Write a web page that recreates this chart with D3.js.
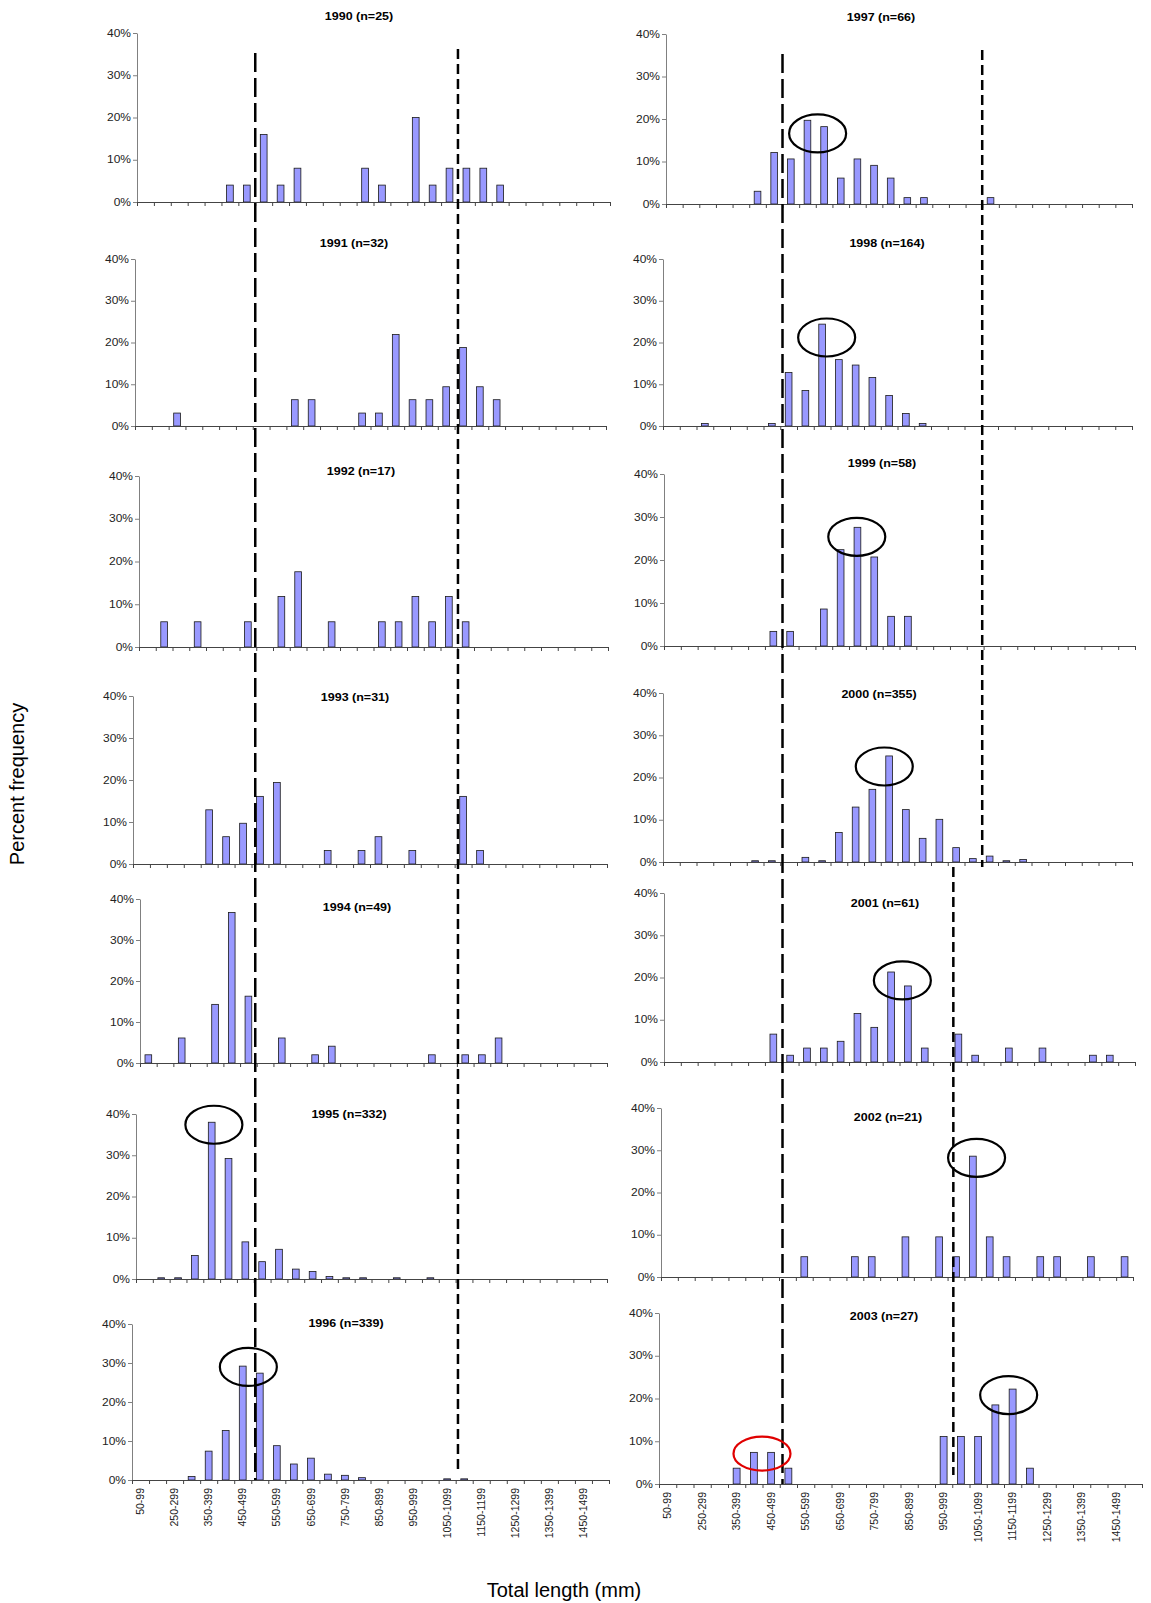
<!DOCTYPE html>
<html>
<head>
<meta charset="utf-8">
<script src="https://cdn.jsdelivr.net/npm/d3@7"></script>
<style>
  body { margin: 0; background: #fff; }
  svg { display: block; font-family: "Liberation Sans", Arial, sans-serif; }
</style>
</head>
<body>
<div id="chart"></div>
<script>
// length classes (mm); every other label is shown on the axis
const categories = ["50-99", "100-249", "250-299", "300-349", "350-399", "400-449", "450-499",
  "500-549", "550-599", "600-649", "650-699", "700-749", "750-799", "800-849", "850-899",
  "900-949", "950-999", "1000-1049", "1050-1099", "1100-1149", "1150-1199", "1200-1249",
  "1250-1299", "1300-1349", "1350-1399", "1400-1449", "1450-1499", "1500-1549"];

const years = [1990, 1991, 1992, 1993, 1994, 1995, 1996, 1997, 1998, 1999, 2000, 2001, 2002, 2003];
const sampleSizes = [25, 32, 17, 31, 49, 332, 339, 66, 164, 58, 355, 61, 21, 27];

// percent frequency per length class
const pct1990 = [0,0,0,0,0,4,4,16,4,8,0,0,0,8,4,0,20,4,8,8,8,4,0,0,0,0,0,0];
const pct1991 = [0,0,3.1,0,0,0,0,0,0,6.3,6.3,0,0,3.1,3.1,21.9,6.3,6.3,9.4,18.8,9.4,6.3,0,0,0,0,0,0];
const pct1992 = [0,5.9,0,5.9,0,0,5.9,0,11.8,17.6,0,5.9,0,0,5.9,5.9,11.8,5.9,11.8,5.9,0,0,0,0,0,0,0,0];
const pct1993 = [0,0,0,0,12.9,6.5,9.7,16.1,19.4,0,0,3.2,0,3.2,6.5,0,3.2,0,0,16.1,3.2,0,0,0,0,0,0,0];
const pct1994 = [2.0,0,6.1,0,14.3,36.7,16.3,0,6.1,0,2.0,4.1,0,0,0,0,0,2.0,0,2.0,2.0,6.1,0,0,0,0,0,0];
const pct1995 = [0,0.3,0.3,5.7,38.0,29.2,9.0,4.2,7.2,2.4,1.8,0.6,0.3,0.3,0,0.3,0,0.3,0,0,0,0,0,0,0,0,0,0];
const pct1996 = [0,0,0,0.9,7.4,12.7,29.2,27.4,8.8,4.1,5.6,1.5,1.2,0.6,0,0,0,0,0.3,0.3,0,0,0,0,0,0,0,0];
const pct1997 = [0,0,0,0,0,3.0,12.1,10.6,19.7,18.2,6.1,10.6,9.1,6.1,1.5,1.5,0,0,0,1.5,0,0,0,0,0,0,0,0];
const pct1998 = [0,0,0.6,0,0,0,0.6,12.8,8.5,24.4,15.9,14.6,11.6,7.3,3.0,0.6,0,0,0,0,0,0,0,0,0,0,0,0];
const pct1999 = [0,0,0,0,0,0,3.4,3.4,0,8.6,22.4,27.6,20.7,6.9,6.9,0,0,0,0,0,0,0,0,0,0,0,0,0];
const pct2000 = [0,0,0,0,0,0.3,0.3,0,1.1,0.3,7.0,13.0,17.2,25.1,12.4,5.6,10.1,3.4,0.8,1.4,0.3,0.6,0,0,0,0,0,0];
const pct2001 = [0,0,0,0,0,0,6.6,1.6,3.3,3.3,4.9,11.5,8.2,21.3,18.0,3.3,0,6.6,1.6,0,3.3,0,3.3,0,0,1.6,1.6,0];
const pct2002 = [0,0,0,0,0,0,0,0,4.8,0,0,4.8,4.8,0,9.5,0,9.5,4.8,28.6,9.5,4.8,0,4.8,4.8,0,4.8,0,4.8];
const pct2003 = [0,0,0,0,3.7,7.4,7.4,3.7,0,0,0,0,0,0,0,0,11.1,11.1,11.1,18.5,22.2,3.7,0,0,0,0,0,0];
const series = [pct1990, pct1991, pct1992, pct1993, pct1994, pct1995, pct1996,
  pct1997, pct1998, pct1999, pct2000, pct2001, pct2002, pct2003];

const yTicks = [0, 10, 20, 30, 40];

// circled modes: [panel, position in class units, percent]
const modeRings = [[5, 4.63, 37.4], [6, 6.83, 29.0], [7, 9.11, 16.6], [8, 9.77, 21.2],
  [9, 11.46, 25.4], [10, 13.21, 22.6], [11, 14.17, 19.3], [12, 18.72, 28.2], [13, 20.27, 20.8]];
const smallRing = [13, 5.97, 7.1];

// length cut-offs in class units (7 = 500 mm, 19 = 1100 mm, ~17 = 1000 mm)
const cutLines = [
  { ref: 0, pos: 7, from: 0, to: 6, kind: "long" },
  { ref: 0, pos: 19, from: 0, to: 6, kind: "short" },
  { ref: 7, pos: 7, from: 7, to: 13, kind: "long" },
  { ref: 7, pos: 19, from: 7, to: 10, kind: "short" },
  { ref: 11, pos: 17.2, from: 11, to: 13, kind: "short" }
];

// plot boxes of the 14 small charts (pixels)
const boxes = [
  { x0: 137, x1: 610, top: 33, bottom: 202, tx: 359, ty: 16 },
  { x0: 135, x1: 606, top: 259, bottom: 426, tx: 354, ty: 243 },
  { x0: 139, x1: 608, top: 476, bottom: 647, tx: 361, ty: 471 },
  { x0: 133, x1: 607, top: 696, bottom: 864, tx: 355, ty: 697 },
  { x0: 140, x1: 607, top: 899, bottom: 1063, tx: 357, ty: 907 },
  { x0: 136, x1: 607, top: 1114, bottom: 1279, tx: 349, ty: 1114 },
  { x0: 132, x1: 609, top: 1324, bottom: 1480, tx: 346, ty: 1323 },
  { x0: 666, x1: 1132, top: 34, bottom: 204, tx: 881, ty: 17 },
  { x0: 663, x1: 1132, top: 259, bottom: 426, tx: 887, ty: 243 },
  { x0: 664, x1: 1135, top: 474, bottom: 646, tx: 882, ty: 463 },
  { x0: 663, x1: 1132, top: 693, bottom: 862, tx: 879, ty: 694 },
  { x0: 664, x1: 1135, top: 893, bottom: 1062, tx: 885, ty: 903 },
  { x0: 661, x1: 1133, top: 1108, bottom: 1277, tx: 888, ty: 1117 },
  { x0: 659, x1: 1142, top: 1313, bottom: 1484, tx: 884, ty: 1316 }
];
const bottomPanels = [6, 13];

const fullwidth = 1151;
const fullheight = 1603;

const svg = d3.select("#chart").append("svg")
  .attr("width", fullwidth)
  .attr("height", fullheight);

const scales = boxes.map(b => ({
  band: d3.scaleBand().domain(categories).range([b.x0, b.x1]).paddingInner(0.6).paddingOuter(0.3),
  pos: d3.scaleLinear().domain([0, categories.length]).range([b.x0, b.x1]),
  y: d3.scaleLinear().domain([0, 40]).range([b.bottom, b.top])
}));

series.forEach((values, p) => {
  const b = boxes[p];
  const s = scales[p];
  const g = svg.append("g").attr("class", "panel");

  // bars
  g.selectAll("rect")
    .data(values.map((v, i) => ({ cat: categories[i], v })).filter(d => d.v > 0))
    .enter().append("rect")
    .attr("x", d => s.band(d.cat))
    .attr("width", s.band.bandwidth())
    .attr("y", d => s.y(d.v))
    .attr("height", d => s.y(0) - s.y(d.v))
    .attr("fill", "#9999ff")
    .attr("stroke", "#1a1a1a")
    .attr("stroke-width", 0.8);

  // y axis
  const yAxis = g.append("g")
    .attr("transform", `translate(${b.x0},0)`)
    .call(d3.axisLeft(s.y).tickValues(yTicks).tickFormat(d => d + "%").tickSize(4).tickSizeOuter(0));
  yAxis.select(".domain").attr("stroke", "#808080");
  yAxis.selectAll(".tick line").attr("stroke", "#808080");
  yAxis.selectAll(".tick text")
    .attr("x", -5)
    .attr("transform", "scale(1.2,1)")
    .attr("fill", "#222")
    .style("font-size", "10px");

  // x axis: tick marks on class boundaries
  const xAxis = g.append("g")
    .attr("transform", `translate(0,${b.bottom})`)
    .call(d3.axisBottom(s.pos).tickValues(d3.range(categories.length + 1)).tickFormat("").tickSize(4).tickSizeOuter(0));
  xAxis.select(".domain").attr("stroke", "#444");
  xAxis.selectAll(".tick line").attr("stroke", "#444");

  if (bottomPanels.includes(p)) {
    const lab = g.append("g")
      .attr("transform", `translate(0,${b.bottom})`)
      .call(d3.axisBottom(s.band).tickValues(categories.filter((c, i) => i % 2 === 0)).tickSize(0));
    lab.select(".domain").remove();
    lab.selectAll(".tick text")
      .attr("transform", "rotate(-90)")
      .attr("text-anchor", "end")
      .attr("x", -8)
      .attr("y", 0)
      .attr("dy", "0.35em")
      .attr("fill", "#222")
      .style("font-size", "10.5px");
  }

  // panel title
  g.append("text")
    .attr("transform", `translate(${b.tx},${b.ty}) scale(1.25,1)`)
    .attr("text-anchor", "middle")
    .attr("dy", "0.35em")
    .style("font-size", "10px")
    .style("font-weight", "bold")
    .text(`${years[p]} (n=${sampleSizes[p]})`);
});

// cut-off lines across the panels
const dashes = { long: "19,6", short: "10,5" };
const lineTop = { long: 20, short: 16 };
svg.append("g").selectAll("line")
  .data(cutLines)
  .enter().append("line")
  .attr("x1", d => scales[d.ref].pos(d.pos))
  .attr("x2", d => scales[d.ref].pos(d.pos))
  .attr("y1", d => d.from === 11 ? boxes[10].bottom + 5 : boxes[d.from].top + lineTop[d.kind])
  .attr("y2", d => d.to === 10 ? boxes[10].bottom + 5 : boxes[d.to].bottom - (d.kind === "short" ? 9 : 0))
  .attr("stroke", "#000")
  .attr("stroke-width", 2.5)
  .attr("stroke-dasharray", d => dashes[d.kind]);

// rings round the modal classes
const ringData = modeRings.map(r => ({ r, color: "#000", ry: 19 })).concat([{ r: smallRing, color: "#e00000", ry: 17 }]);
svg.append("g").selectAll("ellipse")
  .data(ringData)
  .enter().append("ellipse")
  .attr("cx", d => scales[d.r[0]].pos(d.r[1]))
  .attr("cy", d => scales[d.r[0]].y(d.r[2]))
  .attr("rx", 28.5)
  .attr("ry", d => d.ry)
  .attr("fill", "none")
  .attr("stroke", d => d.color)
  .attr("stroke-width", 2.2);

// axis titles
svg.append("text")
  .attr("transform", "translate(24,784) rotate(-90)")
  .attr("text-anchor", "middle")
  .style("font-size", "20px")
  .text("Percent frequency");

svg.append("text")
  .attr("x", 564)
  .attr("y", 1597)
  .attr("text-anchor", "middle")
  .style("font-size", "20px")
  .text("Total length (mm)");
</script>
</body>
</html>
